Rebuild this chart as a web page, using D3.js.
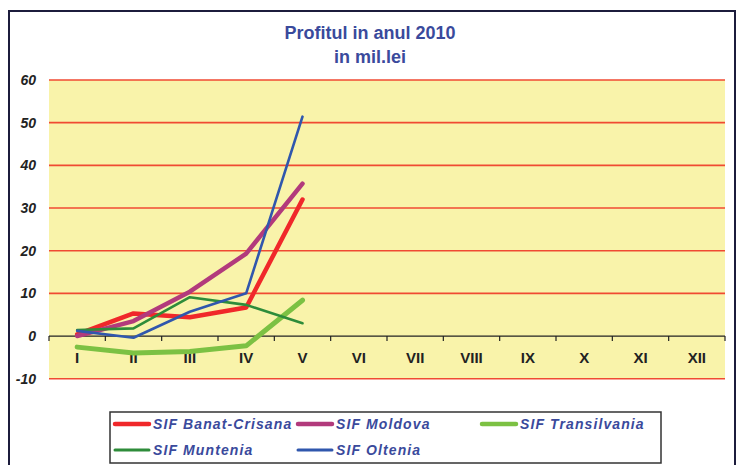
<!DOCTYPE html>
<html><head><meta charset="utf-8">
<script src="https://cdn.jsdelivr.net/npm/d3@7"></script>
<style>body{margin:0;background:#fff}</style>
</head><body>
<svg id="c" width="738" height="465"></svg>
<script>
const months = ["I","II","III","IV","V","VI","VII","VIII","IX","X","XI","XII"];
const yTicks = [-10,0,10,20,30,40,50,60];
const seriesNames = ["SIF Banat-Crisana","SIF Moldova","SIF Transilvania","SIF Muntenia","SIF Oltenia"];
const banat = [0.4, 5.3, 4.4, 6.7, 32.0];
const moldova = [0.0, 3.5, 10.4, 19.3, 35.7];
const transilvania = [-2.6, -4.0, -3.6, -2.3, 8.4];
const muntenia = [1.4, 1.8, 9.1, 7.3, 3.0];
const oltenia = [1.2, -0.4, 5.7, 10.0, 51.4];
const colors = ["#f0282a","#b23a7c","#7cc143","#2e8c3a","#3057ad"];
const widths = [4.5, 4.5, 5, 2.6, 2.6];

const svg = d3.select("#c");
const L = 49, R = 725, T = 80;
const y = d3.scaleLinear().domain([-10,60]).range([378.7, T]);
const x = d3.scaleBand().domain(months).range([L, R]);

// outer frame
svg.append("rect").attr("x",9).attr("y",11).attr("width",726).attr("height",470)
  .attr("fill","#fff").attr("stroke","#1c1c3c").attr("stroke-width",2);

// title
const title = svg.append("text").attr("text-anchor","middle")
  .attr("font-family","'Liberation Sans Narrow','Arial Narrow',sans-serif")
  .attr("font-weight","bold").attr("font-size",18).attr("fill","#3a4a9c");
title.append("tspan").attr("x",370).attr("y",39).text("Profitul in anul 2010");
title.append("tspan").attr("x",370).attr("y",63).text("in mil.lei");

// plot background
svg.append("rect").attr("x",L).attr("y",T).attr("width",R-L).attr("height",y(-10)-T).attr("fill","#f9f3aa");

// gridlines
svg.append("g").selectAll("line").data(yTicks.filter(d=>d!==0)).join("line")
  .attr("x1",L).attr("x2",R).attr("y1",d=>y(d)).attr("y2",d=>y(d))
  .attr("stroke","#f04a32").attr("stroke-width",1.6);

// y labels
svg.append("g").selectAll("text").data(yTicks).join("text")
  .attr("x",36).attr("y",d=>y(d)+5).attr("text-anchor","end")
  .attr("font-family","'Liberation Sans',Arial,sans-serif").attr("font-weight","bold")
  .attr("font-style","italic").attr("font-size",14).attr("fill","#222")
  .text(d=>d);

// x axis at 0
const xAxis = svg.append("g").attr("transform",`translate(0,${y(0)})`);
xAxis.append("line").attr("x1",L).attr("x2",R).attr("stroke","#222").attr("stroke-width",1.3);
const bounds = d3.range(months.length+1).map(i=> i<months.length ? x(months[i]) : R);
xAxis.selectAll("line.t").data(bounds).join("line").attr("class","t")
  .attr("x1",d=>d).attr("x2",d=>d).attr("y1",0).attr("y2",5).attr("stroke","#222").attr("stroke-width",1.2);
xAxis.selectAll("text").data(months).join("text")
  .attr("x",d=>x(d)+x.bandwidth()/2).attr("y",27).attr("text-anchor","middle")
  .attr("font-family","'Liberation Sans Narrow','Arial Narrow',sans-serif").attr("font-weight","bold")
  .attr("font-size",15).attr("fill","#222").text(d=>d);

// lines
const data = [banat, moldova, transilvania, muntenia, oltenia];
const line = d3.line().x((d,i)=>x(months[i])+x.bandwidth()/2).y(d=>y(d));
const order = [2,0,1,3,4];
order.forEach(k=>{
  svg.append("path").datum(data[k]).attr("d",line).attr("fill","none")
    .attr("stroke",colors[k]).attr("stroke-width",widths[k])
    .attr("stroke-linejoin","round").attr("stroke-linecap","round");
});

// legend
svg.append("rect").attr("x",110).attr("y",412).attr("width",551).attr("height",51)
  .attr("fill","#fff").attr("stroke","#333").attr("stroke-width",1.5);
const legPos = [[114,424],[297,424],[481,424],[114,450],[297,450]];
seriesNames.forEach((n,k)=>{
  const [lx,ly] = legPos[k];
  svg.append("line").attr("x1",lx+1).attr("x2",lx+35).attr("y1",ly).attr("y2",ly)
    .attr("stroke",colors[k]).attr("stroke-width",widths[k]>3?4.5:3).attr("stroke-linecap","round");
  svg.append("text").attr("x",lx+39).attr("y",ly+5)
    .attr("font-family","'Liberation Sans',Arial,sans-serif").attr("font-weight","bold")
    .attr("font-style","italic").attr("font-size",14).attr("letter-spacing",1.1)
    .attr("fill","#3a4a9c").text(n);
});
</script>
</body></html>
